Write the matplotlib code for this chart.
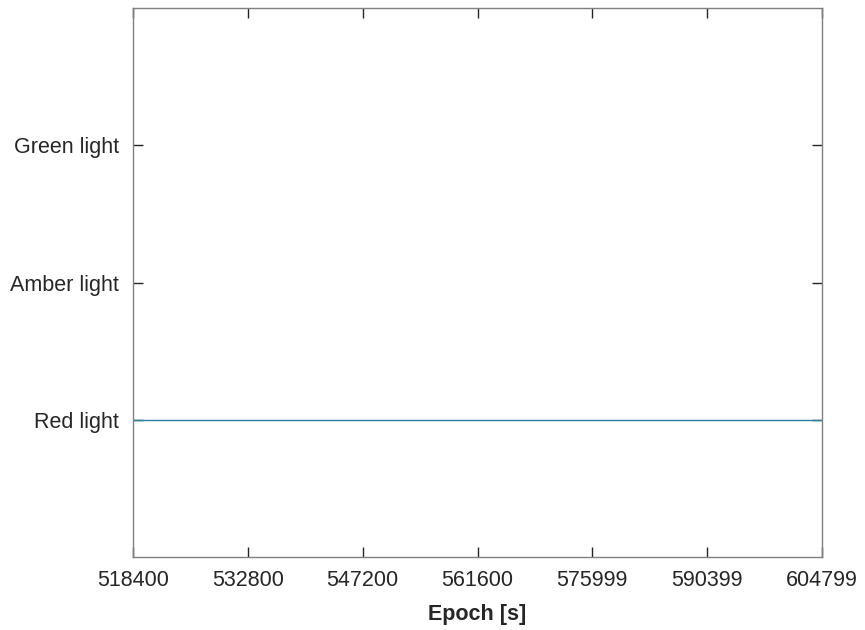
import matplotlib
matplotlib.use("Agg")
import matplotlib.pyplot as plt

epochs = [518400, 604799]
states = [0, 0]
state_labels = ["Red light", "Amber light", "Green light"]
xtick_vals = [518400, 532800, 547200, 561600, 575999, 590399, 604799]
xtick_labels = ["518400", "532800", "547200", "561600", "575999", "590399", "604799"]

plt.rcParams['font.family'] = ['Liberation Sans', 'DejaVu Sans']

fig = plt.figure(figsize=(8.65, 6.3), dpi=100)
ax = fig.add_axes([133/865, 1-557/630, (822-133)/865, (557-8)/630])

ax.plot(epochs, states, color='#2a7f9c', linewidth=1.0)

ax.set_xlim(518400, 604799)
ax.set_ylim(-1, 3)
ax.set_xticks(xtick_vals)
ax.set_xticklabels(xtick_labels)
ax.set_yticks([0, 1, 2])
ax.set_yticklabels(state_labels)

ax.tick_params(direction='in', top=True, right=True, length=7, width=1,
               labelsize=15.5, colors='#262626')
ax.tick_params(axis='y', pad=10)
ax.tick_params(axis='x', pad=9)
for s in ax.spines.values():
    s.set_color('#808080')
    s.set_linewidth(1)

ax.set_xlabel("Epoch [s]", fontsize=15.5, fontweight='bold', color='#262626', labelpad=10)

fig.savefig("out.png", dpi=100)
